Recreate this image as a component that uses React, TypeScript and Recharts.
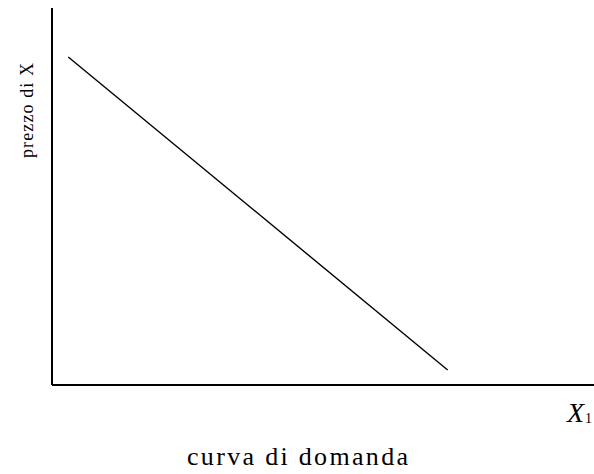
import React from 'react';
import { LineChart, Line, XAxis, YAxis, Label } from 'recharts';

// Demand curve endpoints (quantity, price)
const quantities = [3, 73];
const prices = [87, 4];
const axisTitleY = 'prezzo di X';
const axisTitleX = 'X';
const axisTitleXSub = '1';
const chartTitle = 'curva di domanda';

const data = quantities.map((q, i) => ({ q, p: prices[i] }));

const serif = "'Liberation Serif', 'DejaVu Serif', serif";

const XLabels = (props: any) => {
  const vb = props.viewBox || {};
  const right = vb.x + vb.width;
  const y = vb.y;
  return (
    <g>
      <text x={right - 27} y={y + 37} style={{ fontFamily: serif, fontStyle: 'italic', fontSize: 28 }} fill="#000">
        {axisTitleX}
      </text>
      <text x={right - 9} y={y + 38} style={{ fontFamily: serif, fontSize: 14 }} fill="#000">
        {axisTitleXSub}
      </text>
      <text
        x={187}
        y={y + 80}
        textLength={221}
        lengthAdjust="spacing"
        style={{ fontFamily: serif, fontSize: 26 }}
        fill="#000"
      >
        {chartTitle}
      </text>
    </g>
  );
};

const YLabel = () => {
  return (
    <text
      x={0}
      y={0}
      transform="translate(33,158) rotate(-90)"
      textLength={95}
      lengthAdjust="spacing"
      style={{ fontFamily: serif, fontSize: 18 }}
      fill="#000"
    >
      {axisTitleY}
    </text>
  );
};

export default function App() {
  return (
    <div style={{ position: 'fixed', left: 0, top: 0, width: 594, height: 474, background: '#fff' }}>
      <LineChart width={594} height={474} data={data} margin={{ top: 8, right: 0, bottom: 79, left: 42 }}>
        <XAxis
          dataKey="q"
          type="number"
          domain={[0, 100]}
          tick={false}
          tickLine={false}
          height={10}
          axisLine={{ stroke: '#000', strokeWidth: 2 }}
        >
          <Label content={<XLabels />} />
        </XAxis>
        <YAxis
          dataKey="p"
          type="number"
          domain={[0, 100]}
          tick={false}
          tickLine={false}
          width={10}
          axisLine={{ stroke: '#000', strokeWidth: 2 }}
        >
          <Label content={<YLabel />} />
        </YAxis>
        <Line
          dataKey="p"
          stroke="#000"
          strokeWidth={1.4}
          dot={false}
          isAnimationActive={false}
        />
      </LineChart>
    </div>
  );
}
